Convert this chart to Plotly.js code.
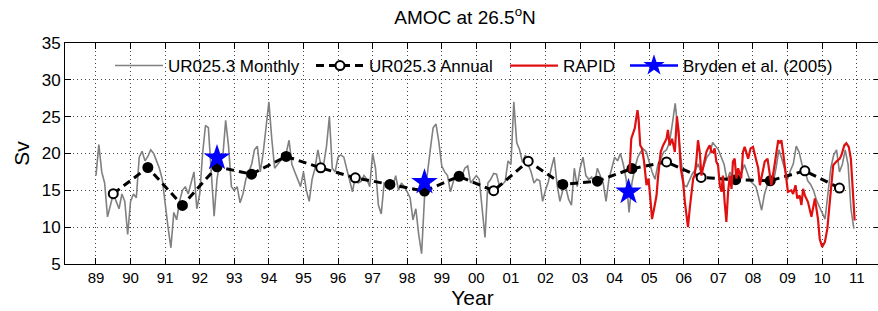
<!DOCTYPE html>
<html>
<head>
<meta charset="utf-8">
<script src="https://cdn.plot.ly/plotly-3.0.1.min.js"></script>
<style>
html,body{margin:0;padding:0;overflow:hidden;background:#fff;}
#chart{width:880px;height:311px;}
</style>
</head>
<body>
<div id="chart"></div>
<script>
// ---------- DATA ----------
// UR025.3 monthly AMOC (Sv), one array per year, Jan..Dec
const monthlyStartYear = 1989;
const m1989 = [17, 21.2, 17.5, 16, 11.4, 13, 14.5, 13.5, 12.5, 14.5, 13.5, 9];
const m1990 = [13.5, 14.5, 14, 19.5, 20.3, 19, 19.6, 20.5, 20, 19, 18, 16.5];
const m1991 = [13, 10, 7.2, 12, 11, 13.5, 15, 15.5, 14.5, 16, 17.5, 12.5];
const m1992 = [14.5, 20, 23.8, 23.5, 17.5, 11.5, 16.5, 19, 19.5, 24.5, 21, 15.5];
const m1993 = [15, 15.5, 13.3, 14.5, 16.5, 17.5, 18.5, 20.5, 21, 17.5, 20, 23.5];
const m1994 = [27, 22, 18, 18.5, 19, 19.5, 20, 21.8, 18.5, 17.5, 16.5, 15.5];
const m1995 = [17.5, 15, 13.5, 16.5, 18, 20.5, 18.5, 18.5, 21, 25, 18, 17.5];
const m1996 = [19.5, 19.8, 19.5, 18, 16.5, 14.8, 16.8, 16, 16.2, 17, 16.5, 15.5];
const m1997 = [20, 18, 13, 11.8, 16, 15.8, 16.5, 15.5, 17, 15, 16, 15.5];
const m1998 = [14.8, 14, 11, 12.5, 9, 6.4, 14, 17.5, 20.5, 23.5, 24, 21.5];
const m1999 = [18.3, 17.5, 17, 14.8, 16, 17.5, 16.5, 17, 18, 18.3, 16, 16.5];
const m2000 = [17, 16.5, 13, 8.6, 16, 16.5, 17.3, 17.2, 15.6, 15.8, 16.2, 19];
const m2001 = [18.5, 27, 21.5, 20.5, 18.8, 19.8, 18.5, 17.5, 16, 16.5, 16.3, 13.5];
const m2002 = [15, 16.2, 18, 19.5, 15.8, 13.5, 15, 15.5, 13.8, 13, 18, 15.5];
const m2003 = [18, 19.5, 17, 16.5, 16.8, 15.8, 18, 17, 16, 13.5, 16.5, 18];
const m2004 = [19.5, 19, 20, 18.5, 16.5, 12, 16, 18, 19.5, 20.2, 20.6, 20.2];
const m2005 = [18.8, 17.5, 16.5, 18.5, 19.3, 20.2, 20.5, 21.5, 24, 26.8, 23, 19];
const m2006 = [15.7, 15.5, 16.5, 17.3, 17.8, 18.6, 17.3, 18.5, 19.5, 20, 21.5, 21];
const m2007 = [20.5, 19.5, 18.5, 16.3, 17.5, 16.5, 16.2, 17.3, 17.3, 18.5, 17.3, 16.3];
const m2008 = [15.9, 15.5, 14, 12.3, 14.5, 15.8, 16.3, 16, 18, 20.5, 19.3, 17.8];
const m2009 = [16.5, 17.7, 18.6, 21, 20.2, 18.5, 17.7, 16.3, 15.8, 15, 13.7, 12.8];
const m2010 = [12, 11.1, 14.5, 18, 19.8, 20.5, 17.5, 18.5, 20.5, 18.5, 12.5, 9.8];
const monthlyByYear = [m1989, m1990, m1991, m1992, m1993, m1994, m1995, m1996, m1997, m1998, m1999,
                       m2000, m2001, m2002, m2003, m2004, m2005, m2006, m2007, m2008, m2009, m2010];

// UR025.3 annual means
const annualYears = [1989.5, 1990.5, 1991.5, 1992.5, 1993.5, 1994.5, 1995.5, 1996.5, 1997.5, 1998.5, 1999.5,
                     2000.5, 2001.5, 2002.5, 2003.5, 2004.5, 2005.5, 2006.5, 2007.5, 2008.5, 2009.5, 2010.5];
const annualSv = [14.55, 18.1, 12.95, 18.2, 17.2, 19.6, 18.05, 16.7, 15.8, 14.9, 16.9,
                  14.95, 18.95, 15.8, 16.25, 17.95, 18.85, 16.75, 16.45, 16.3, 17.65, 15.3];
const annualFilled = [false, true, true, true, true, true, false, false, true, true, true,
                      false, false, true, true, true, false, false, true, true, false, false];

// RAPID (filtered time series)
const rapidTime = [2004.43, 2004.48, 2004.58, 2004.66, 2004.69, 2004.74, 2004.79, 2004.85, 2004.92, 2004.98,
  2005.04, 2005.08, 2005.14, 2005.21, 2005.25, 2005.33, 2005.40, 2005.50, 2005.54, 2005.59,
  2005.66, 2005.74, 2005.80, 2005.85, 2005.91, 2005.98, 2006.03, 2006.07, 2006.12, 2006.17,
  2006.22, 2006.27, 2006.31, 2006.36, 2006.41, 2006.46, 2006.51, 2006.56, 2006.60, 2006.65,
  2006.70, 2006.75, 2006.80, 2006.85, 2006.89, 2006.94, 2006.99, 2007.04, 2007.09, 2007.13,
  2007.18, 2007.23, 2007.28, 2007.33, 2007.38, 2007.42, 2007.47, 2007.52, 2007.57, 2007.66,
  2007.71, 2007.76, 2007.86, 2007.93, 2008.00, 2008.05, 2008.15, 2008.20, 2008.24, 2008.29,
  2008.34, 2008.42, 2008.48, 2008.53, 2008.61, 2008.68, 2008.73, 2008.77, 2008.82, 2008.87,
  2008.92, 2009.01, 2009.11, 2009.16, 2009.23, 2009.28, 2009.35, 2009.40, 2009.45, 2009.50,
  2009.59, 2009.64, 2009.69, 2009.79, 2009.88, 2009.93, 2010.00, 2010.08, 2010.15, 2010.22,
  2010.27, 2010.32, 2010.41, 2010.51, 2010.56, 2010.64, 2010.70, 2010.77, 2010.83, 2010.87,
  2010.90, 2010.94];
const rapidSv = [17.5, 22.0, 23.4, 25.9, 24.8, 21.1, 20.7, 18.9, 15.7, 16.6,
  13.4, 11.1, 12.5, 14.3, 16.6, 20.2, 21.1, 22.0, 23.2, 21.1,
  22.0, 20.2, 25.0, 23.0, 18.0, 16.1, 13.4, 12.0, 10.0, 12.5,
  14.3, 16.6, 17.0, 18.9, 21.8, 20.2, 17.0, 18.0, 18.9, 20.2,
  20.7, 21.1, 20.2, 20.2, 20.7, 18.9, 18.4, 15.7, 14.8, 17.0,
  13.4, 10.7, 14.8, 17.0, 15.2, 18.9, 19.3, 16.6, 18.0, 16.6,
  20.2, 20.9, 19.3, 20.7, 20.9, 19.8, 18.0, 15.7, 16.6, 18.0,
  18.9, 19.3, 17.0, 15.7, 18.0, 20.7, 21.8, 21.4, 21.8, 20.2,
  18.0, 14.8, 15.0, 14.5, 15.7, 13.9, 14.3, 13.0, 15.2, 14.3,
  13.4, 12.5, 11.4, 13.9, 11.1, 8.4, 7.3, 8.0, 9.8, 13.4,
  16.1, 18.4, 18.9, 19.3, 19.8, 21.1, 21.4, 20.9, 19.3, 16.6,
  13.4, 10.9];

// Bryden et al. (2005)
const brydenYears = [1992.5, 1998.5, 2004.4];
const brydenSv = [19.4, 16.1, 14.8];

// Axis ticks
const tickYears = [1989,1990,1991,1992,1993,1994,1995,1996,1997,1998,1999,2000,2001,2002,2003,2004,2005,2006,2007,2008,2009,2010,2011];
const tickLabels = ['89','90','91','92','93','94','95','96','97','98','99','00','01','02','03','04','05','06','07','08','09','10','11'];
const yTicks = [5, 10, 15, 20, 25, 30, 35];

// ---------- BUILD ----------
const monthlyT = [], monthlyV = [];
monthlyByYear.forEach((arr, yi) => {
  arr.forEach((v, mi) => {
    monthlyT.push(monthlyStartYear + yi + mi / 12);
    monthlyV.push(v);
  });
});

const FONT = 'Liberation Sans, Arial, Helvetica, sans-serif';

const traces = [
  {
    x: monthlyT, y: monthlyV, type: 'scatter', mode: 'lines',
    name: 'UR025.3 Monthly', legend: 'legend',
    line: {color: '#808080', width: 1.6}
  },
  {
    x: annualYears, y: annualSv, type: 'scatter', mode: 'lines+markers',
    name: 'UR025.3 Annual', legend: 'legend2',
    line: {color: '#000000', width: 3, dash: '8px,5px'},
    marker: {symbol: 'circle', size: 9,
             color: annualFilled.map(f => f ? '#000000' : '#ffffff'),
             line: {color: '#000000', width: 2}}
  },
  {
    x: rapidTime, y: rapidSv, type: 'scatter', mode: 'lines',
    name: 'RAPID', legend: 'legend3',
    line: {color: '#e01010', width: 2.2}
  },
  {
    x: brydenYears, y: brydenSv, type: 'scatter', mode: 'markers',
    name: 'Bryden et al. (2005)', showlegend: false,
    marker: {symbol: 'star', size: 20, color: '#0000ff', line: {color: '#0000ff', width: 0}}
  },
  {
    x: [null], y: [null], type: 'scatter', mode: 'lines+markers',
    name: 'Bryden et al. (2005)', legend: 'legend4',
    line: {color: '#0000ff', width: 2.5},
    marker: {symbol: 'star', size: 20, color: '#0000ff'}
  }
];

const legendY = 1 - (66 - 43) / 221;
function legendAt(px) {
  return {
    orientation: 'h',
    x: (px - 65) / 815, xanchor: 'left',
    y: legendY, yanchor: 'middle',
    bgcolor: 'rgba(0,0,0,0)', borderwidth: 0,
    itemwidth: 48,
    font: {family: FONT, size: 17, color: '#000'}
  };
}

const gridDash = '1px,3px';

const layout = {
  width: 880, height: 311,
  margin: {l: 65, r: 0, t: 43, b: 47, pad: 0},
  paper_bgcolor: '#ffffff', plot_bgcolor: '#ffffff',
  font: {family: FONT, size: 14, color: '#000'},
  showlegend: true,
  title: {
    text: 'AMOC at 26.5<sup>o</sup>N',
    font: {family: FONT, size: 19, color: '#000'},
    xref: 'container', x: 465 / 880, xanchor: 'center',
    yref: 'container', y: 1 - 17 / 311, yanchor: 'middle'
  },
  xaxis: {
    range: [1988.104, 2011.673],
    tickmode: 'array', tickvals: tickYears, ticktext: tickLabels,
    ticks: 'inside', ticklen: 6, tickcolor: '#000', tickwidth: 1,
    showline: true, linecolor: '#000', linewidth: 1, mirror: 'ticks',
    showgrid: true, gridcolor: '#444', griddash: gridDash, gridwidth: 1,
    zeroline: false,
    tickfont: {family: FONT, size: 15, color: '#000'},
    title: {text: 'Year', font: {family: FONT, size: 21, color: '#000'}, standoff: 5}
  },
  yaxis: {
    range: [5, 35],
    tickmode: 'array', tickvals: yTicks,
    ticks: 'inside', ticklen: 6, tickcolor: '#000', tickwidth: 1,
    showline: true, linecolor: '#000', linewidth: 1, mirror: 'ticks',
    showgrid: true, gridcolor: '#444', griddash: gridDash, gridwidth: 1,
    zeroline: false,
    tickfont: {family: FONT, size: 17, color: '#000'},
    title: {text: 'Sv', font: {family: FONT, size: 21, color: '#000'}, standoff: 6}
  },
  legend: legendAt(110),
  legend2: legendAt(311),
  legend3: legendAt(505),
  legend4: legendAt(625)
};

Plotly.newPlot('chart', traces, layout, {displayModeBar: false, staticPlot: true});
</script>
</body>
</html>
